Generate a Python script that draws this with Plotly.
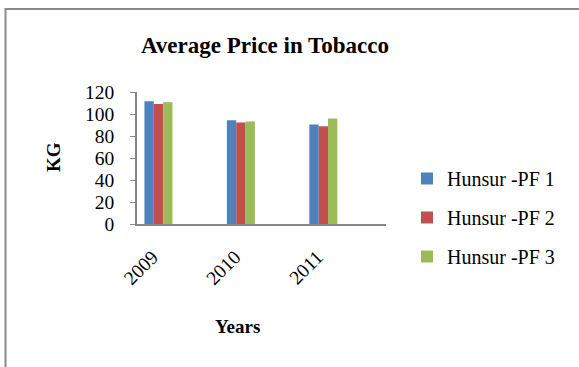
import plotly.graph_objects as go

years = ["2009", "2010", "2011"]
series_names = ["Hunsur -PF 1", "Hunsur -PF 2", "Hunsur -PF 3"]
pf1 = [111.5, 94.3, 90.4]
pf2 = [109, 92.2, 88.8]
pf3 = [110.6, 93.1, 95.8]
colors = ["#4F81BD", "#C0504D", "#9BBB59"]
y_ticks = [0, 20, 40, 60, 80, 100, 120]

FONT = "Liberation Serif, Times New Roman, serif"

fig = go.Figure()
for i, (name, vals) in enumerate(zip(series_names, [pf1, pf2, pf3])):
    fig.add_trace(go.Bar(
        x=years, y=vals, name=name, legendgroup=f"g{i}",
        marker=dict(color=colors[i], line=dict(width=0)),
    ))

W, H = 579, 367
L, R, T, B = 137, 193, 92, 143
pw = W - L - R
ph = H - T - B

def px(x):
    return (x - L) / pw

def py(y):
    return (H - B - y) / ph

fig.update_layout(
    width=W, height=H,
    margin=dict(l=L, r=R, t=T, b=B),
    paper_bgcolor="white", plot_bgcolor="white",
    font=dict(family=FONT, size=19, color="black"),
    barmode="group", bargap=0.66, bargroupgap=0,
    title=dict(text="<b>Average Price in Tobacco</b>", x=265 / W, xanchor="center",
               y=1 - 45 / H, yanchor="middle", font=dict(family=FONT, size=23)),
    xaxis=dict(range=[-0.26, 2.76], showline=True, linecolor="#868686", linewidth=2,
               ticks="", tickangle=-45, showgrid=False, zeroline=False,
               ticklabelstandoff=12, ticklabelshift=-6,
               tickfont=dict(family=FONT, size=19.5)),
    yaxis=dict(range=[0, 120], tickvals=y_ticks, showline=True, linecolor="#868686",
               linewidth=1.5, ticks="outside", ticklen=5, tickcolor="#868686",
               showgrid=False, zeroline=False, ticklabelstandoff=12,
               tickfont=dict(family=FONT, size=19.5)),
    legend=dict(x=px(407), y=py(159), xanchor="left", yanchor="top",
                tracegroupgap=10, font=dict(family=FONT, size=20),
                bgcolor="rgba(0,0,0,0)"),
    showlegend=True,
    annotations=[
        dict(text="<b>KG</b>", x=px(53), y=py(157), xref="paper", yref="paper",
             xanchor="center", yanchor="middle",
             textangle=-90, showarrow=False, font=dict(family=FONT, size=19)),
        dict(text="<b>Years</b>", x=px(237), y=py(326), xref="paper", yref="paper",
             xanchor="center", yanchor="middle",
             showarrow=False, font=dict(family=FONT, size=19)),
    ],
    shapes=[
        dict(type="rect", xref="paper", yref="paper",
             x0=px(5.5), x1=px(700), y0=py(500), y1=py(9),
             line=dict(color="#8a8a8a", width=2), fillcolor="rgba(0,0,0,0)", layer="below"),
    ],
)

fig.write_html("out.html")
